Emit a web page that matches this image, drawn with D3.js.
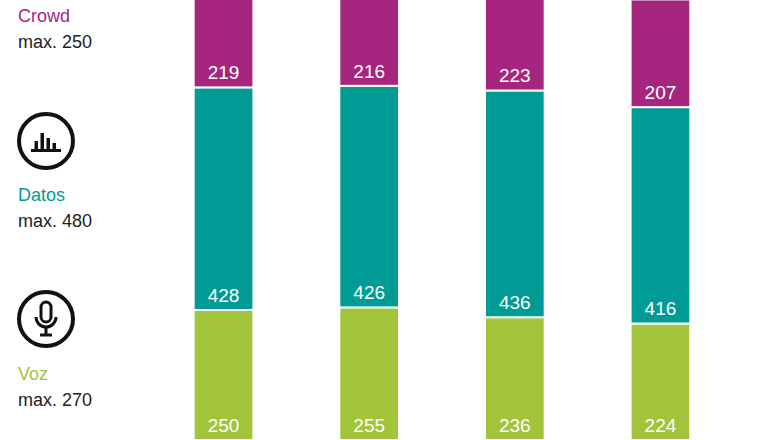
<!DOCTYPE html>
<html><head><meta charset="utf-8">
<script src="https://cdn.jsdelivr.net/npm/d3@7"></script>
<style>body{margin:0;background:#fff}svg{display:block}text{font-family:"Liberation Sans",Arial,sans-serif}</style>
</head><body><svg id="c" width="780" height="440"></svg>
<script>
const categories = ["A","B","C","D"];
const voz = [250,255,236,224];
const datos = [428,426,436,416];
const crowd = [219,216,223,207];
const seriesNames = ["Voz","Datos","Crowd"];
const seriesMax = ["max. 270","max. 480","max. 250"];
const colors = {Voz:"#a2c43a",Datos:"#009b94",Crowd:"#a6267f"};

const svg = d3.select("#c");
const x = d3.scaleBand().domain(categories).range([150,734]).paddingInner(0.59).paddingOuter(0.3);
const y = d3.scaleLinear().domain([0,846]).range([440,0]);
const data = categories.map((c,i)=>({cat:c,Voz:voz[i],Datos:datos[i],Crowd:crowd[i]}));
const stack = d3.stack().keys(seriesNames)(data);

stack.forEach(s=>{
  const g = svg.append("g");
  g.selectAll("rect").data(s).join("rect")
    .attr("x",d=>x(d.data.cat)).attr("width",x.bandwidth())
    .attr("y",d=>y(d[1])).attr("height",d=>y(d[0])-y(d[1]))
    .attr("fill",colors[s.key]).attr("stroke","#fff").attr("stroke-width",2);
  g.selectAll("text").data(s).join("text")
    .attr("x",d=>x(d.data.cat)+x.bandwidth()/2).attr("y",d=>y(d[0])-8)
    .attr("text-anchor","middle").attr("fill","#fff").attr("font-size",19)
    .text(d=>d[1]-d[0]);
});

// left labels
const lab = [{n:"Crowd",m:"max. 250",y:22},{n:"Datos",m:"max. 480",y:201},{n:"Voz",m:"max. 270",y:380}];
lab.forEach(l=>{
  svg.append("text").attr("x",18).attr("y",l.y).attr("font-size",18).attr("fill",colors[l.n]).text(l.n);
  svg.append("text").attr("x",18).attr("y",l.y+26).attr("font-size",18).attr("fill","#222").text(l.m);
});
// icons
const ic1 = svg.append("g").attr("transform","translate(46,141)");
ic1.append("circle").attr("r",27).attr("fill","none").attr("stroke","#111").attr("stroke-width",4);
[[-10,8],[-4,16],[2,11],[8,6]].forEach(([bx,h])=>ic1.append("rect").attr("x",bx-1.5).attr("y",8-h).attr("width",3.5).attr("height",h).attr("fill","#111"));
ic1.append("rect").attr("x",-15).attr("y",8).attr("width",30).attr("height",3).attr("fill","#111");
const ic2 = svg.append("g").attr("transform","translate(46,319)");
ic2.append("circle").attr("r",27).attr("fill","none").attr("stroke","#111").attr("stroke-width",4);
ic2.append("rect").attr("x",-5).attr("y",-17).attr("width",10).attr("height",20).attr("rx",5).attr("fill","none").attr("stroke","#111").attr("stroke-width",3);
ic2.append("path").attr("d","M-10,-2 A10,10 0 0 0 10,-2 M0,8 L0,16 M-6,16 L6,16").attr("fill","none").attr("stroke","#111").attr("stroke-width",3);
</script></body></html>
